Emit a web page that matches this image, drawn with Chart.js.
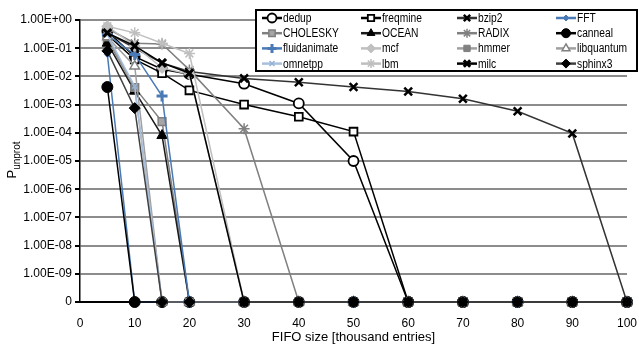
<!DOCTYPE html>
<html>
<head>
<meta charset="utf-8">
<script src="https://cdn.jsdelivr.net/npm/chart.js@4/dist/chart.umd.min.js"></script>
<style>
  html, body { margin: 0; padding: 0; background: #fff; }
  #wrap { width: 639px; height: 345px; position: relative; }
</style>
</head>
<body>
<div id="wrap"><canvas id="chart"></canvas></div>
<script>
// FIFO sizes (thousand entries) where each benchmark was measured
const fifoSizes = [5, 10, 15, 20, 30, 40, 50, 60, 70, 80, 90, 100];
const xTicks = [0, 10, 20, 30, 40, 50, 60, 70, 80, 90, 100];
// log axis decades; the bottom one stands in for "0"
const yTicks = [1e-10, 1e-9, 1e-8, 1e-7, 1e-6, 1e-5, 1e-4, 1e-3, 1e-2, 1e-1, 1];
const zeroFloor = 1e-10;

// P_unprot per benchmark, one value per FIFO size
const dedup        = [0.4, 0.05, 0.018, 0.012, 5.5e-3, 1.1e-3, 1.0e-5, 0, 0, 0, 0, 0];
const freqmine     = [0.3, 0.04, 0.013, 3.2e-3, 1.0e-3, 3.7e-4, 1.1e-4, 0, 0, 0, 0, 0];
const bzip2        = [0.35, 0.1, 0.03, 0.015, 8.5e-3, 6.2e-3, 4.2e-3, 2.9e-3, 1.6e-3, 5.8e-4, 9.5e-5, 0];
const fft          = [0.06, 0, 0, 0, 0, 0, 0, 0, 0, 0, 0, 0];
const cholesky     = [0.2, 0.004, 2.5e-4, 0, 0, 0, 0, 0, 0, 0, 0, 0];
const ocean        = [0.15, 0.003, 8e-5, 0, 0, 0, 0, 0, 0, 0, 0, 0];
const radix        = [0.5, 0.15, 0.14, 0.017, 1.4e-4, 0, 0, 0, 0, 0, 0, 0];
const canneal      = [4.2e-3, 0, 0, 0, 0, 0, 0, 0, 0, 0, 0, 0];
const fluidanimate = [0.3, 0.06, 2e-3, 0, 0, 0, 0, 0, 0, 0, 0, 0];
const mcf          = [0.6, 0.12, 0.02, 0.012, 0, 0, 0, 0, 0, 0, 0, 0];
const hmmer        = [0.25, 0.004, 0, 0, 0, 0, 0, 0, 0, 0, 0, 0];
const libquantum   = [0.25, 0.023, 0, 0, 0, 0, 0, 0, 0, 0, 0, 0];
const omnetpp      = [0.3, 4.5e-3, 0, 0, 0, 0, 0, 0, 0, 0, 0, 0];
const lbm          = [0.6, 0.35, 0.15, 0.065, 0, 0, 0, 0, 0, 0, 0, 0];
const milc         = [0.35, 0.12, 0.03, 0.013, 0, 0, 0, 0, 0, 0, 0, 0];
const sphinx3      = [0.08, 7.5e-4, 0, 0, 0, 0, 0, 0, 0, 0, 0, 0];

const FONT = "'Liberation Sans', Arial, sans-serif";
const BLUE = '#4a7ab5';

const series = [
  { label: 'dedup',        values: dedup,        line: '#000',    style: 'circle',   r: 5,   fill: '#fff',    edge: '#000',    bw: 1.8 },
  { label: 'freqmine',     values: freqmine,     line: '#000',    style: 'rect',     r: 5.5, fill: '#fff',    edge: '#000',    bw: 1.8 },
  { label: 'bzip2',        values: bzip2,        line: '#333',    style: 'crossRot', r: 5.5, fill: '#000',    edge: '#000',    bw: 2.5 },
  { label: 'FFT',          values: fft,          line: BLUE,      style: 'rectRot',  r: 3,   fill: BLUE,      edge: BLUE,      bw: 1 },
  { label: 'CHOLESKY',     values: cholesky,     line: '#808080', style: 'rect',     r: 5.5, fill: '#a6a6a6', edge: '#7f7f7f', bw: 1.5 },
  { label: 'OCEAN',        values: ocean,        line: '#1a1a1a', style: 'triangle', r: 6,   fill: '#000',    edge: '#000',    bw: 1 },
  { label: 'RADIX',        values: radix,        line: '#808080', style: 'star',     r: 5.5, fill: '#808080', edge: '#808080', bw: 1.5 },
  { label: 'canneal',      values: canneal,      line: '#000',    style: 'circle',   r: 5.5, fill: '#000',    edge: '#000',    bw: 1 },
  { label: 'fluidanimate', values: fluidanimate, line: BLUE,      style: 'cross',    r: 5.5, fill: BLUE,      edge: BLUE,      bw: 3 },
  { label: 'mcf',          values: mcf,          line: '#bfbfbf', style: 'rectRot',  r: 5.5, fill: '#c0c0c0', edge: '#c0c0c0', bw: 1 },
  { label: 'hmmer',        values: hmmer,        line: '#a0a0a0', style: 'rect',     r: 5.5, fill: '#808080', edge: '#808080', bw: 1 },
  { label: 'libquantum',   values: libquantum,   line: '#a0a0a0', style: 'triangle', r: 5.5, fill: '#fff',    edge: '#808080', bw: 1.5 },
  { label: 'omnetpp',      values: omnetpp,      line: '#a9c0dd', style: 'crossRot', r: 3.5, fill: '#95b3d7', edge: '#95b3d7', bw: 1.5 },
  { label: 'lbm',          values: lbm,          line: '#bfbfbf', style: 'star',     r: 5.5, fill: '#bfbfbf', edge: '#bfbfbf', bw: 1.5 },
  { label: 'milc',         values: milc,         line: '#000',    style: 'crossRot', r: 5.5, fill: '#000',    edge: '#000',    bw: 3 },
  { label: 'sphinx3',      values: sphinx3,      line: '#404040', style: 'rectRot',  r: 5.5, fill: '#000',    edge: '#000',    bw: 1 }
];

const datasets = series.map((s, i) => ({
  label: s.label,
  data: fifoSizes.map((x, k) => ({ x: x, y: s.values[k] === 0 ? zeroFloor : s.values[k] })),
  borderColor: s.line,
  borderWidth: 1.5,
  pointStyle: s.style,
  pointRadius: s.r,
  pointBackgroundColor: s.fill,
  pointBorderColor: s.edge,
  pointBorderWidth: s.bw,
  fill: false,
  tension: 0,
  clip: false,
  order: -i // later benchmarks sit on top, like the spreadsheet original
}));

function expLabel(v) {
  if (v <= zeroFloor) return '0';
  const e = Math.round(Math.log10(v));
  const sign = e < 0 ? '-' : '+';
  return '1.00E' + sign + String(Math.abs(e)).padStart(2, '0');
}

// boxed 4-column legend plus the subscripted y title
const decorations = {
  id: 'decorations',
  afterDraw(chart) {
    const ctx = chart.ctx;
    const H = Chart.helpers;
    ctx.save();

    // legend box
    ctx.fillStyle = '#fff';
    ctx.fillRect(256, 10, 381, 61);
    ctx.strokeStyle = '#000';
    ctx.lineWidth = 2;
    ctx.strokeRect(256, 10, 381, 61);

    const colX = [262, 361, 457, 556];
    ctx.font = '12.5px ' + FONT;
    ctx.textBaseline = 'middle';
    ctx.textAlign = 'left';
    series.forEach((s, i) => {
      const x = colX[i % 4];
      const y = 18 + Math.floor(i / 4) * 15.2;
      ctx.strokeStyle = s.line;
      ctx.lineWidth = 2.5;
      ctx.beginPath();
      ctx.moveTo(x, y);
      ctx.lineTo(x + 20, y);
      ctx.stroke();
      ctx.fillStyle = s.fill;
      ctx.strokeStyle = s.edge;
      ctx.lineWidth = s.bw;
      H.drawPoint(ctx, { pointStyle: s.style, radius: Math.min(s.r, 4.5), rotation: 0, borderWidth: s.bw }, x + 10, y);
      // condensed lettering
      ctx.save();
      ctx.translate(x + 21, y + 0.5);
      ctx.scale(0.82, 1);
      ctx.fillStyle = '#000';
      ctx.fillText(s.label, 0, 0);
      ctx.restore();
    });

    // y axis title: P with "unprot" subscript
    ctx.translate(16, 160);
    ctx.rotate(-Math.PI / 2);
    ctx.fillStyle = '#000';
    ctx.textBaseline = 'alphabetic';
    ctx.font = '13px ' + FONT;
    const pw = ctx.measureText('P').width;
    ctx.font = '10px ' + FONT;
    const sw = ctx.measureText('unprot').width;
    const start = -(pw + sw) / 2;
    ctx.font = '13px ' + FONT;
    ctx.fillText('P', start, 0);
    ctx.font = '10px ' + FONT;
    ctx.fillText('unprot', start + pw, 4);
    ctx.restore();
  }
};

new Chart(document.getElementById('chart'), {
  type: 'line',
  data: { datasets: datasets },
  plugins: [decorations],
  options: {
    responsive: true,
    maintainAspectRatio: false,
    animation: false,
    layout: { padding: { top: 20, right: 12, left: 0, bottom: 0 } },
    plugins: {
      legend: { display: false },
      tooltip: { enabled: false }
    },
    scales: {
      x: {
        type: 'linear',
        min: 0,
        max: 100,
        afterBuildTicks: scale => { scale.ticks = xTicks.map(v => ({ value: v })); },
        afterFit: scale => {
          scale.height = 43;
          scale.paddingLeft = 0;
          scale.paddingRight = 0;
        },
        grid: { display: false },
        border: { display: true, color: '#000', width: 2 },
        ticks: { color: '#000', padding: 6, maxRotation: 0, font: { family: FONT, size: 12 } },
        title: {
          display: true,
          text: 'FIFO size [thousand entries]',
          color: '#000',
          padding: { top: 0, bottom: 0 },
          font: { family: FONT, size: 13 }
        }
      },
      y: {
        type: 'logarithmic',
        min: zeroFloor,
        max: 1,
        afterBuildTicks: scale => { scale.ticks = yTicks.map(v => ({ value: v })); },
        afterFit: scale => {
          scale.width = 80;
          scale.paddingTop = 0;
          scale.paddingBottom = 0;
        },
        grid: {
          color: ctx => (ctx.tick && ctx.tick.value <= zeroFloor ? '#000' : '#8c8c8c'),
          lineWidth: 2,
          tickColor: '#000',
          tickLength: 5
        },
        border: { display: true, color: '#000', width: 1.5 },
        ticks: {
          color: '#000',
          padding: 3,
          autoSkip: false,
          font: { family: FONT, size: 12 },
          callback: v => expLabel(v)
        }
      }
    }
  }
});
</script>
</body>
</html>
